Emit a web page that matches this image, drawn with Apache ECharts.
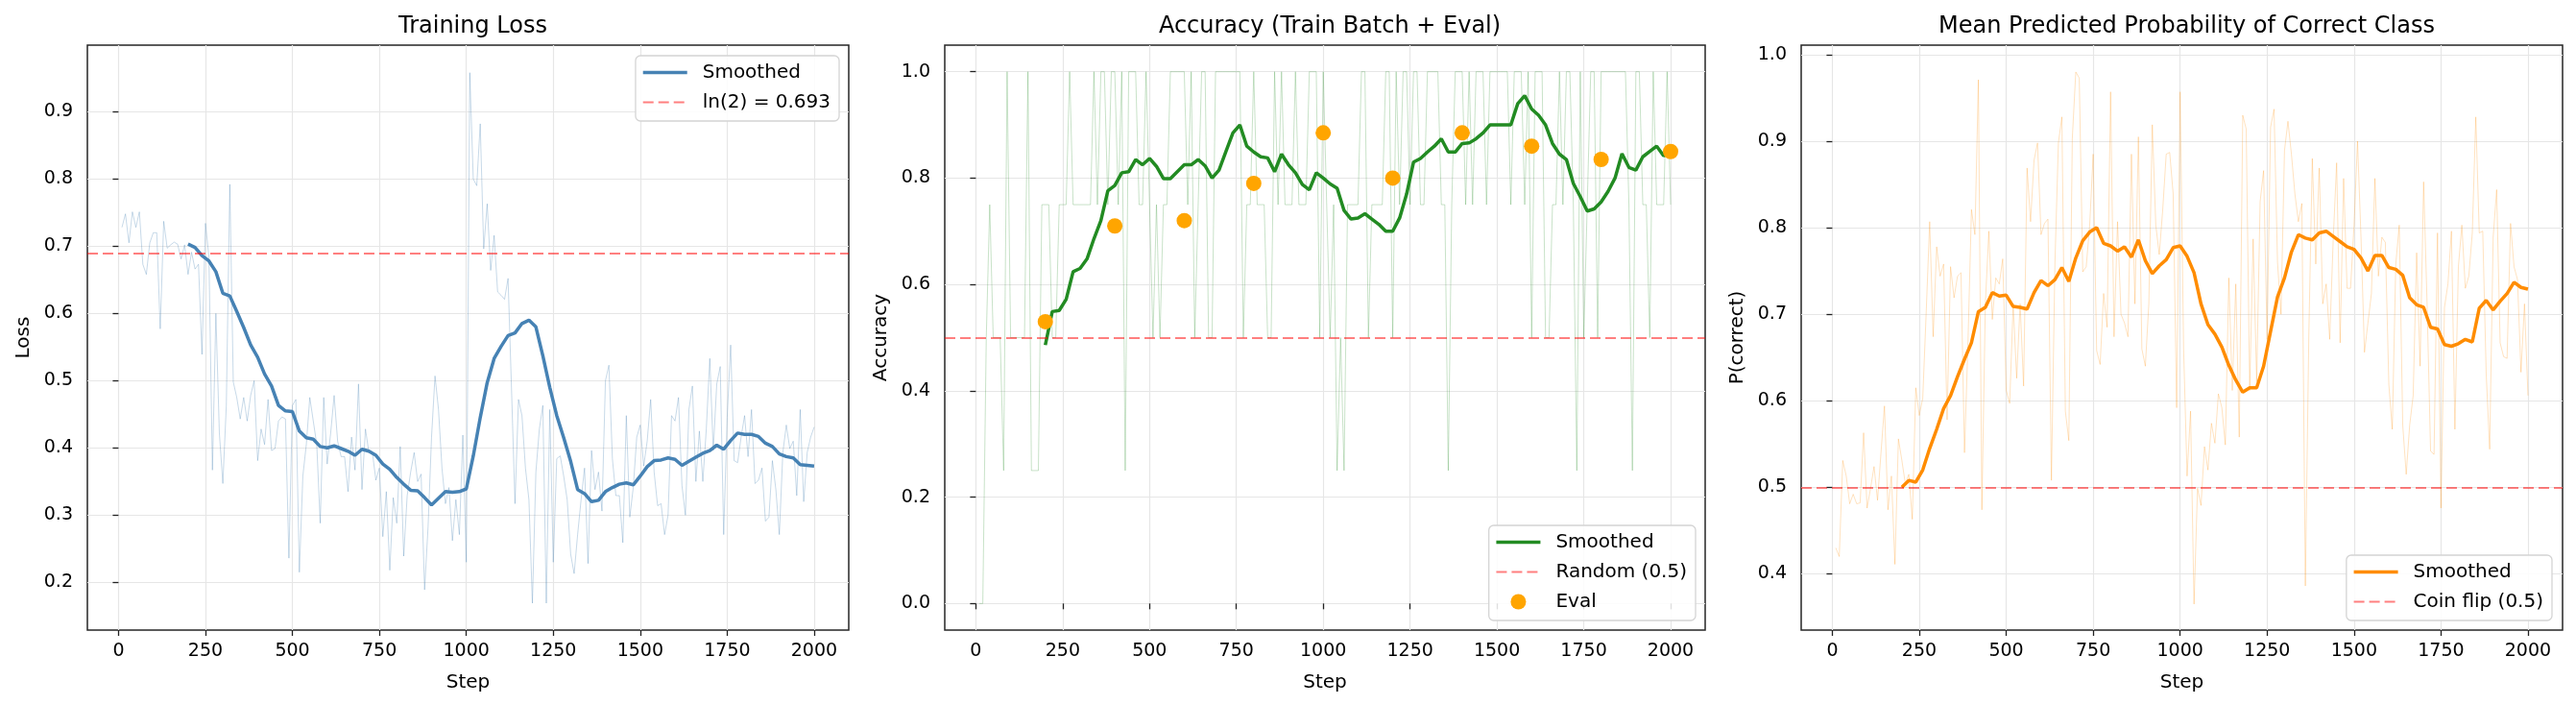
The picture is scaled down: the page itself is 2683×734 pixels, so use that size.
<!DOCTYPE html>
<html>
<head>
    <meta charset="UTF-8">
    <title>Training curves</title>
    <script src="https://cdn.jsdelivr.net/npm/echarts@6.0.0/dist/echarts.min.js"></script>
    <style type="text/css">
        html, body { margin: 0; padding: 0; background: #fff; }
        #main { width: 2683px; height: 734px; }
    </style>
</head>
<body>
<div id="main"></div>
<script>
    // raw values every 10 steps (10..2000)
    var lossRaw = [
        0.728, 0.748, 0.705, 0.751, 0.728, 0.751, 0.673, 0.658, 0.705, 0.72,
        0.72, 0.577, 0.737, 0.697, 0.702, 0.706, 0.703, 0.681, 0.702, 0.658,
        0.691, 0.666, 0.673, 0.539, 0.734, 0.684, 0.367, 0.600, 0.422, 0.347,
        0.463, 0.792, 0.498, 0.475, 0.443, 0.475, 0.44, 0.478, 0.50, 0.381,
        0.428, 0.405, 0.472, 0.396, 0.399, 0.44, 0.446, 0.443, 0.236, 0.463,
        0.472, 0.215, 0.358, 0.405, 0.475, 0.44, 0.405, 0.288, 0.475, 0.376,
        0.422, 0.478, 0.41, 0.387, 0.387, 0.335, 0.416, 0.367, 0.495, 0.338,
        0.428, 0.393, 0.393, 0.352, 0.37, 0.268, 0.335, 0.218, 0.326, 0.288,
        0.402, 0.239, 0.329, 0.364, 0.393, 0.35, 0.361, 0.189, 0.282, 0.416,
        0.507, 0.457, 0.37, 0.317, 0.341, 0.262, 0.323, 0.271, 0.419, 0.23,
        0.958, 0.80, 0.79, 0.882, 0.696, 0.763, 0.664, 0.716, 0.632, 0.627,
        0.621, 0.652, 0.486, 0.317, 0.472, 0.448, 0.37, 0.323, 0.169, 0.364,
        0.428, 0.463, 0.169, 0.457, 0.23, 0.384, 0.388, 0.358, 0.323, 0.242,
        0.213, 0.271, 0.323, 0.37, 0.228, 0.396, 0.338, 0.364, 0.306, 0.50,
        0.523, 0.384, 0.329, 0.329, 0.259, 0.448, 0.297, 0.341, 0.416, 0.434,
        0.373, 0.41, 0.472, 0.364, 0.314, 0.317, 0.271, 0.30, 0.448, 0.44,
        0.475, 0.344, 0.30, 0.457, 0.492, 0.35, 0.425, 0.35, 0.428, 0.533,
        0.396, 0.495, 0.521, 0.271, 0.445, 0.553, 0.381, 0.378, 0.416, 0.448,
        0.387, 0.457, 0.347, 0.352, 0.37, 0.291, 0.297, 0.381, 0.338, 0.271,
        0.393, 0.434, 0.399, 0.41, 0.329, 0.457, 0.32, 0.393, 0.416, 0.431
    ];
    var accRaw = [
        0, 0, 0.5, 0.75, 0.5, 0.5, 0.5, 0.25, 1.0, 0.5,
        0.5, 0.5, 0.5, 0.5, 1.0, 0.25, 0.25, 0.25, 0.75, 0.75,
        0.75, 0.5, 0.5, 0.75, 0.75, 0.75, 1.0, 0.75, 0.75, 0.75,
        0.75, 0.75, 0.75, 1.0, 0.75, 1.0, 1.0, 0.75, 1.0, 1.0,
        0.75, 1.0, 0.25, 1.0, 1.0, 1.0, 0.75, 0.75, 1.0, 0.75,
        0.5, 0.75, 0.5, 0.75, 0.75, 1.0, 1.0, 1.0, 1.0, 1.0,
        0.75, 1.0, 0.5, 0.75, 1.0, 1.0, 0.5, 0.5, 1.0, 1.0,
        1.0, 1.0, 1.0, 1.0, 1.0, 1.0, 0.5, 0.75, 0.75, 1.0,
        0.75, 0.75, 0.75, 0.5, 0.5, 1.0, 0.75, 1.0, 0.75, 0.75,
        0.75, 1.0, 0.75, 0.75, 0.75, 1.0, 1.0, 1.0, 0.5, 1.0,
        0.75, 0.5, 0.75, 0.25, 0.5, 0.25, 0.75, 0.75, 0.75, 0.75,
        1.0, 1.0, 0.5, 0.75, 0.75, 0.75, 0.75, 1.0, 1.0, 0.5,
        1.0, 0.75, 1.0, 1.0, 0.75, 1.0, 1.0, 0.75, 0.75, 1.0,
        1.0, 1.0, 1.0, 0.75, 0.75, 0.25, 0.75, 1.0, 1.0, 1.0,
        0.75, 1.0, 0.75, 1.0, 1.0, 1.0, 0.75, 1.0, 1.0, 1.0,
        1.0, 1.0, 1.0, 0.75, 1.0, 1.0, 1.0, 0.75, 1.0, 0.5,
        1.0, 1.0, 1.0, 0.5, 0.5, 0.75, 0.75, 1.0, 0.75, 1.0,
        1.0, 0.75, 0.25, 1.0, 0.5, 0.75, 1.0, 1.0, 0.5, 1.0,
        1.0, 1.0, 1.0, 1.0, 1.0, 1.0, 1.0, 0.75, 0.25, 1.0,
        1.0, 0.75, 0.75, 0.5, 1.0, 0.75, 0.75, 0.75, 1.0, 0.75
    ];
    var probRaw = [
        0.43, 0.42, 0.531, 0.513, 0.481, 0.492, 0.481, 0.482, 0.563, 0.476,
        0.499, 0.524, 0.485, 0.54, 0.594, 0.474, 0.513, 0.411, 0.556, 0.531,
        0.504, 0.515, 0.463, 0.615, 0.583, 0.603, 0.703, 0.807, 0.674, 0.778,
        0.744, 0.758, 0.578, 0.755, 0.719, 0.744, 0.748, 0.54, 0.667, 0.821,
        0.792, 0.971, 0.474, 0.712, 0.796, 0.694, 0.742, 0.735, 0.764, 0.612,
        0.597, 0.712, 0.626, 0.712, 0.617, 0.869, 0.807, 0.878, 0.898, 0.792,
        0.805, 0.81, 0.508, 0.758, 0.898, 0.928, 0.588, 0.554, 0.903, 0.98,
        0.973, 0.749, 0.755, 0.803, 0.885, 0.658, 0.642, 0.724, 0.685, 0.957,
        0.674, 0.807, 0.70, 0.69, 0.674, 0.885, 0.712, 0.905, 0.66, 0.64,
        0.712, 0.919, 0.803, 0.769, 0.821, 0.885, 0.887, 0.839, 0.592, 0.957,
        0.66, 0.513, 0.588, 0.365, 0.499, 0.479, 0.547, 0.52, 0.574, 0.551,
        0.608, 0.592, 0.549, 0.742, 0.612, 0.735, 0.558, 0.93, 0.914, 0.612,
        0.787, 0.622, 0.83, 0.866, 0.671, 0.916, 0.937, 0.76, 0.70, 0.889,
        0.923, 0.885, 0.839, 0.807, 0.828, 0.386, 0.676, 0.88, 0.758, 0.869,
        0.712, 0.735, 0.671, 0.785, 0.875, 0.667, 0.857, 0.73, 0.73, 0.803,
        0.90, 0.789, 0.656, 0.69, 0.724, 0.857, 0.744, 0.789, 0.783, 0.619,
        0.567, 0.758, 0.803, 0.572, 0.515, 0.572, 0.606, 0.771, 0.64, 0.853,
        0.712, 0.542, 0.538, 0.794, 0.476, 0.708, 0.735, 0.796, 0.567, 0.755,
        0.803, 0.73, 0.744, 0.794, 0.928, 0.794, 0.796, 0.631, 0.544, 0.789,
        0.844, 0.667, 0.651, 0.649, 0.805, 0.755, 0.74, 0.633, 0.712, 0.606
    ];

    // smoothed curves, read every 20 steps (200..2000)
    var lossSmooth = [
        0.703, 0.698, 0.686, 0.678, 0.662, 0.630, 0.626, 0.603, 0.579, 0.553,
        0.535, 0.510, 0.492, 0.463, 0.455, 0.454, 0.425, 0.415, 0.413, 0.402,
        0.400, 0.403, 0.399, 0.395, 0.389, 0.398, 0.395, 0.389, 0.376, 0.368,
        0.356, 0.346, 0.337, 0.336, 0.326, 0.315, 0.325, 0.335, 0.334, 0.335,
        0.339, 0.388, 0.445, 0.497, 0.533, 0.551, 0.567, 0.571, 0.585, 0.590,
        0.580, 0.537, 0.490, 0.448, 0.415, 0.380, 0.338, 0.332, 0.320, 0.322,
        0.335, 0.341, 0.346, 0.348, 0.345, 0.358, 0.372, 0.381, 0.382, 0.385,
        0.383, 0.374, 0.380, 0.386, 0.392, 0.396, 0.404, 0.398, 0.411, 0.422,
        0.420, 0.420, 0.417, 0.407, 0.402, 0.391, 0.387, 0.385, 0.375, 0.374,
        0.373
    ];
    var accSmooth = [
        0.486, 0.549, 0.551, 0.572, 0.624, 0.630, 0.648, 0.686, 0.720, 0.776,
        0.786, 0.810, 0.812, 0.835, 0.825, 0.837, 0.822, 0.799, 0.799, 0.812,
        0.825, 0.825, 0.835, 0.823, 0.800, 0.815, 0.850, 0.885, 0.900, 0.860,
        0.849, 0.840, 0.838, 0.812, 0.845, 0.825, 0.810, 0.788, 0.778, 0.810,
        0.800, 0.789, 0.781, 0.739, 0.723, 0.725, 0.733, 0.723, 0.713, 0.700,
        0.700, 0.725, 0.770, 0.830, 0.837, 0.849, 0.860, 0.874, 0.849, 0.849,
        0.865, 0.866, 0.874, 0.885, 0.900, 0.900, 0.900, 0.900, 0.940, 0.955,
        0.930, 0.918, 0.900, 0.865, 0.845, 0.835, 0.790, 0.765, 0.738, 0.742,
        0.755, 0.775, 0.800, 0.846, 0.820, 0.815, 0.840, 0.850, 0.860, 0.842,
        0.850
    ];
    var probSmooth = [
        0.500, 0.508, 0.506, 0.520, 0.545, 0.567, 0.591, 0.606, 0.628, 0.648,
        0.667, 0.703, 0.708, 0.725, 0.721, 0.722, 0.709, 0.708, 0.706, 0.725,
        0.739, 0.733, 0.740, 0.754, 0.738, 0.765, 0.785, 0.795, 0.800, 0.782,
        0.779, 0.773, 0.778, 0.766, 0.786, 0.762, 0.747, 0.756, 0.763, 0.777,
        0.779, 0.767, 0.748, 0.712, 0.688, 0.677, 0.662, 0.641, 0.624, 0.610,
        0.615, 0.615, 0.640, 0.680, 0.720, 0.742, 0.772, 0.792, 0.788, 0.786,
        0.794, 0.796, 0.790, 0.784, 0.778, 0.775, 0.765, 0.750, 0.768, 0.768,
        0.754, 0.752, 0.745, 0.719, 0.711, 0.708, 0.685, 0.683, 0.665, 0.663,
        0.666, 0.671, 0.668, 0.707, 0.716, 0.705, 0.715, 0.724, 0.737, 0.731,
        0.729
    ];

    var evalSteps = [200, 400, 600, 800, 1000, 1200, 1400, 1600, 1800, 2000];
    var evalAcc = [0.53, 0.71, 0.72, 0.79, 0.885, 0.80, 0.885, 0.86, 0.835, 0.85];

    var xTicks = [0, 250, 500, 750, 1000, 1250, 1500, 1750, 2000];
    var lossTicks = [0.2, 0.3, 0.4, 0.5, 0.6, 0.7, 0.8, 0.9];
    var accTicks = [0.0, 0.2, 0.4, 0.6, 0.8, 1.0];
    var probTicks = [0.4, 0.5, 0.6, 0.7, 0.8, 0.9, 1.0];

    var LN2 = 0.693;

    // sampling grid of the logged steps
    function rawPairs(vals) {
        return vals.map(function (v, i) { return [10 * (i + 1), v]; });
    }
    function smoothPairs(vals) {
        return vals.map(function (v, i) { return [200 + 20 * i, v]; });
    }

    var FONT = 'DejaVu Sans';
    var names = {
        lossSm: 'Smoothed', lossRef: 'ln(2) = 0.693',
        accSm: 'Smoothed', accRef: 'Random (0.5)', accEval: 'Eval',
        probSm: 'Smoothed', probRef: 'Coin flip (0.5)'
    };

    var panels = [
        { left: 91, width: 793 },
        { left: 984, width: 792 },
        { left: 1876, width: 793 }
    ];

    function makeX(i) {
        return {
            type: 'value', gridIndex: i, min: -89.5, max: 2099.5,
            name: 'Step', nameLocation: 'middle', nameGap: 45,
            nameTextStyle: { fontFamily: FONT, fontSize: 20, color: '#000' },
            axisLine: { show: false },
            axisTick: { show: true, inside: false, length: 6, customValues: xTicks,
                lineStyle: { color: '#222', width: 1.3 } },
            axisLabel: { customValues: xTicks, margin: 13, fontFamily: FONT, fontSize: 19, color: '#000',
                formatter: function (v) { return String(v); } },
            splitLine: { show: true, lineStyle: { color: '#e6e6e6', width: 1.2 } }
        };
    }
    function makeY(i, min, max, ticks, name, gap) {
        return {
            type: 'value', gridIndex: i, min: min, max: max,
            name: name, nameLocation: 'middle', nameGap: gap,
            nameTextStyle: { fontFamily: FONT, fontSize: 20, color: '#000' },
            axisLine: { show: false },
            axisTick: { show: true, inside: false, length: 6, customValues: ticks,
                lineStyle: { color: '#222', width: 1.3 } },
            axisLabel: { customValues: ticks, margin: 15, fontFamily: FONT, fontSize: 19, color: '#000',
                formatter: function (v) { return v.toFixed(1); } },
            splitLine: { show: true, lineStyle: { color: '#e6e6e6', width: 1.2 } }
        };
    }
    function refLine(id, i, y) {
        return {
            name: id, type: 'line', xAxisIndex: i, yAxisIndex: i, data: [],
            symbol: 'none', color: 'rgba(255,0,0,0.5)',
            lineStyle: { color: 'rgba(255,0,0,0.5)', width: 2.2, type: [11, 5] },
            markLine: {
                silent: true, symbol: ['none', 'none'], label: { show: false },
                lineStyle: { color: 'rgba(255,0,0,0.5)', width: 2.2, type: [11, 5] },
                data: [{ yAxis: y }]
            },
            z: 3
        };
    }
    // line entries: hide the symbol drawn on the legend line
    function lineItem(n, w) {
        return { name: n, itemStyle: { opacity: 0 }, lineStyle: { width: w } };
    }
    function legendBox(opts) {
        var base = {
            orient: 'vertical', itemWidth: 46, itemHeight: 16, itemGap: 8,
            padding: [6, 9, 8, 6],
            backgroundColor: 'rgba(255,255,255,0.85)', borderColor: '#d4d4d4', borderWidth: 1.3, borderRadius: 5,
            lineStyle: { width: 3.2 },
            textStyle: { fontFamily: FONT, fontSize: 20, color: '#000', lineHeight: 23, padding: [0, 0, 0, 11] },
            formatter: function (n) { return names[n]; },
            selectedMode: false
        };
        for (var k in opts) base[k] = opts[k];
        return base;
    }
    function title(text, cx) {
        return {
            text: text, left: cx, top: 11, textAlign: 'center',
            textStyle: { fontFamily: FONT, fontSize: 24, fontWeight: 'normal', color: '#000' }
        };
    }

    var chart = echarts.init(document.getElementById('main'), null, { renderer: 'canvas' });

    var option = {
        animation: false,
        backgroundColor: '#fff',
        title: [
            title('Training Loss', 487.5),
            title('Accuracy (Train Batch + Eval)', 1380),
            title('Mean Predicted Probability of Correct Class', 2272.5)
        ],
        grid: panels.map(function (p) {
            return { left: p.left, top: 47, width: p.width, height: 609,
                show: true, borderColor: '#262626', borderWidth: 1.5, backgroundColor: 'transparent' };
        }),
        xAxis: [makeX(0), makeX(1), makeX(2)],
        yAxis: [
            makeY(0, 0.129, 0.999, lossTicks, 'Loss', 56),
            makeY(1, -0.05, 1.05, accTicks, 'Accuracy', 56),
            makeY(2, 0.335, 1.011, probTicks, 'P(correct)', 56)
        ],
        legend: [
            legendBox({ right: 1809, top: 58, data: [lineItem('lossSm', 3.5), lineItem('lossRef', 2.2)] }),
            legendBox({ right: 917, bottom: 88, data: [lineItem('accSm', 3.5), lineItem('accRef', 2.2), 'accEval'] }),
            legendBox({ right: 25, bottom: 88, data: [lineItem('probSm', 3.5), lineItem('probRef', 2.2)] })
        ],
        series: [
            { name: 'lossRaw', type: 'line', xAxisIndex: 0, yAxisIndex: 0, data: rawPairs(lossRaw),
                symbol: 'none', lineStyle: { color: 'rgba(70,130,180,0.3)', width: 1 }, z: 1 },
            refLine('lossRef', 0, LN2),
            { name: 'lossSm', type: 'line', xAxisIndex: 0, yAxisIndex: 0, data: smoothPairs(lossSmooth),
                symbol: 'none', color: '#4682b4', lineStyle: { color: '#4682b4', width: 3.5 }, z: 4 },

            { name: 'accRaw', type: 'line', xAxisIndex: 1, yAxisIndex: 1, data: rawPairs(accRaw),
                symbol: 'none', lineStyle: { color: 'rgba(34,139,34,0.25)', width: 1 }, z: 1 },
            refLine('accRef', 1, 0.5),
            { name: 'accSm', type: 'line', xAxisIndex: 1, yAxisIndex: 1, data: smoothPairs(accSmooth),
                symbol: 'none', color: '#228b22', lineStyle: { color: '#228b22', width: 3.5 }, z: 4 },
            { name: 'accEval', type: 'scatter', xAxisIndex: 1, yAxisIndex: 1,
                data: evalSteps.map(function (s, i) { return [s, evalAcc[i]]; }),
                symbol: 'circle', symbolSize: 16, color: '#ffa500',
                itemStyle: { color: '#ffa500', opacity: 1 }, z: 5 },

            { name: 'probRaw', type: 'line', xAxisIndex: 2, yAxisIndex: 2, data: rawPairs(probRaw),
                symbol: 'none', lineStyle: { color: 'rgba(255,140,0,0.25)', width: 1 }, z: 1 },
            refLine('probRef', 2, 0.5),
            { name: 'probSm', type: 'line', xAxisIndex: 2, yAxisIndex: 2, data: smoothPairs(probSmooth),
                symbol: 'none', color: '#ff8c00', lineStyle: { color: '#ff8c00', width: 3.5 }, z: 4 }
        ]
    };

    chart.setOption(option);
</script>
</body>
</html>
